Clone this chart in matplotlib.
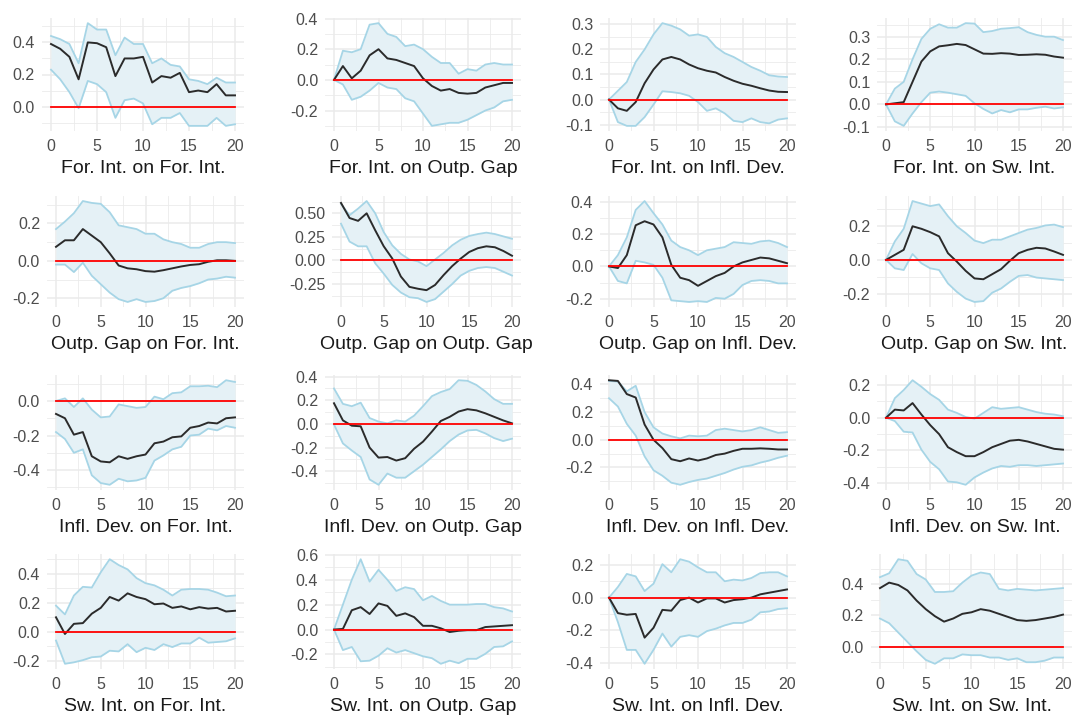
import numpy as np
import matplotlib
matplotlib.use("Agg")
import matplotlib.pyplot as plt

plt.rcParams['font.family'] = ['Liberation Sans', 'DejaVu Sans']

horizon = list(range(21))

# impulse responses: mean, lower and upper bands, one triple per panel
fi_fi_mean = [0.39, 0.36, 0.31, 0.17, 0.40, 0.395, 0.37, 0.19, 0.30, 0.30, 0.31, 0.15, 0.19, 0.18, 0.21, 0.09, 0.10, 0.09, 0.14, 0.07, 0.07]
fi_fi_hi = [0.44, 0.42, 0.39, 0.27, 0.52, 0.48, 0.48, 0.32, 0.43, 0.39, 0.39, 0.27, 0.30, 0.26, 0.25, 0.17, 0.16, 0.14, 0.18, 0.15, 0.15]
fi_fi_lo = [0.23, 0.17, 0.09, -0.01, 0.16, 0.14, 0.09, -0.07, 0.04, 0.05, 0.02, -0.11, -0.07, -0.07, -0.04, -0.12, -0.12, -0.12, -0.07, -0.12, -0.11]

fi_og_mean = [0.0, 0.09, 0.01, 0.06, 0.16, 0.20, 0.14, 0.13, 0.11, 0.09, 0.01, -0.04, -0.07, -0.06, -0.085, -0.09, -0.085, -0.05, -0.035, -0.02, -0.02]
fi_og_hi = [0.0, 0.19, 0.18, 0.20, 0.36, 0.37, 0.30, 0.28, 0.22, 0.23, 0.20, 0.15, 0.11, 0.11, 0.04, 0.07, 0.06, 0.10, 0.11, 0.10, 0.10]
fi_og_lo = [0.0, -0.03, -0.13, -0.11, -0.07, -0.02, -0.05, -0.06, -0.12, -0.14, -0.22, -0.30, -0.29, -0.28, -0.28, -0.26, -0.23, -0.20, -0.18, -0.14, -0.13]

fi_id_mean = [0.0, -0.035, -0.045, -0.01, 0.065, 0.12, 0.16, 0.17, 0.16, 0.14, 0.125, 0.115, 0.108, 0.09, 0.075, 0.063, 0.055, 0.045, 0.036, 0.031, 0.03]
fi_id_hi = [0.0, 0.035, 0.07, 0.15, 0.20, 0.26, 0.305, 0.295, 0.28, 0.255, 0.26, 0.25, 0.21, 0.185, 0.17, 0.15, 0.13, 0.115, 0.097, 0.092, 0.09]
fi_id_lo = [0.0, -0.09, -0.105, -0.105, -0.07, -0.02, 0.033, 0.03, 0.025, 0.015, -0.01, -0.045, -0.035, -0.055, -0.085, -0.09, -0.075, -0.09, -0.095, -0.08, -0.075]

fi_si_mean = [0.0, 0.005, 0.01, 0.10, 0.19, 0.235, 0.257, 0.262, 0.268, 0.263, 0.244, 0.225, 0.224, 0.227, 0.225, 0.219, 0.22, 0.222, 0.22, 0.212, 0.207]
fi_si_hi = [0.0, 0.07, 0.10, 0.20, 0.29, 0.335, 0.355, 0.34, 0.34, 0.36, 0.358, 0.32, 0.325, 0.335, 0.338, 0.342, 0.32, 0.308, 0.30, 0.30, 0.285]
fi_si_lo = [0.0, -0.075, -0.095, -0.04, 0.01, 0.052, 0.057, 0.052, 0.045, 0.038, 0.005, -0.02, -0.04, -0.025, -0.035, -0.022, -0.022, -0.015, -0.01, -0.018, -0.013]

og_fi_mean = [0.075, 0.11, 0.11, 0.17, 0.135, 0.10, 0.04, -0.025, -0.04, -0.045, -0.055, -0.058, -0.05, -0.04, -0.03, -0.022, -0.018, -0.005, 0.003, 0.003, 0.0]
og_fi_hi = [0.17, 0.21, 0.255, 0.32, 0.31, 0.305, 0.26, 0.19, 0.18, 0.17, 0.145, 0.145, 0.115, 0.10, 0.09, 0.07, 0.07, 0.09, 0.10, 0.10, 0.095]
og_fi_lo = [-0.02, -0.02, -0.06, -0.01, -0.08, -0.125, -0.17, -0.205, -0.22, -0.205, -0.22, -0.215, -0.20, -0.16, -0.145, -0.135, -0.12, -0.10, -0.095, -0.085, -0.09]

og_og_mean = [0.61, 0.45, 0.42, 0.50, 0.32, 0.15, 0.02, -0.17, -0.28, -0.30, -0.315, -0.26, -0.155, -0.06, 0.02, 0.09, 0.13, 0.15, 0.14, 0.10, 0.05]
og_og_hi = [0.60, 0.48, 0.55, 0.63, 0.50, 0.30, 0.16, 0.07, 0.01, -0.01, -0.06, 0.01, 0.08, 0.16, 0.22, 0.26, 0.28, 0.295, 0.28, 0.255, 0.23]
og_og_lo = [0.39, 0.20, 0.15, 0.15, -0.03, -0.14, -0.26, -0.34, -0.39, -0.40, -0.44, -0.41, -0.33, -0.25, -0.16, -0.11, -0.08, -0.07, -0.08, -0.12, -0.16]

og_id_mean = [0.0, -0.01, 0.07, 0.255, 0.28, 0.26, 0.18, 0.01, -0.07, -0.085, -0.12, -0.09, -0.06, -0.04, 0.0, 0.025, 0.04, 0.055, 0.05, 0.035, 0.02]
og_id_hi = [0.0, 0.07, 0.18, 0.35, 0.405, 0.33, 0.26, 0.16, 0.12, 0.10, 0.07, 0.10, 0.11, 0.12, 0.15, 0.145, 0.14, 0.155, 0.16, 0.145, 0.12]
og_id_lo = [0.0, -0.09, -0.105, 0.035, 0.025, 0.01, -0.07, -0.21, -0.215, -0.22, -0.215, -0.22, -0.195, -0.20, -0.17, -0.115, -0.09, -0.085, -0.09, -0.105, -0.105]

og_si_mean = [0.0, 0.03, 0.06, 0.20, 0.185, 0.165, 0.14, 0.04, -0.01, -0.065, -0.11, -0.115, -0.085, -0.055, -0.005, 0.04, 0.06, 0.072, 0.068, 0.05, 0.03]
og_si_hi = [0.0, 0.11, 0.185, 0.35, 0.335, 0.32, 0.33, 0.26, 0.20, 0.16, 0.115, 0.10, 0.12, 0.12, 0.14, 0.16, 0.18, 0.19, 0.205, 0.21, 0.195]
og_si_lo = [0.0, -0.05, -0.06, 0.035, -0.02, -0.05, -0.06, -0.14, -0.19, -0.23, -0.25, -0.245, -0.195, -0.17, -0.13, -0.095, -0.09, -0.105, -0.11, -0.115, -0.12]

id_fi_mean = [-0.075, -0.10, -0.195, -0.18, -0.32, -0.35, -0.355, -0.32, -0.335, -0.32, -0.31, -0.245, -0.235, -0.21, -0.205, -0.155, -0.145, -0.125, -0.13, -0.10, -0.095]
id_fi_hi = [0.0, 0.015, -0.035, 0.015, -0.05, -0.095, -0.09, -0.02, -0.03, -0.04, -0.035, 0.025, 0.01, 0.045, 0.05, 0.085, 0.085, 0.088, 0.08, 0.12, 0.11]
id_fi_lo = [-0.18, -0.22, -0.30, -0.28, -0.43, -0.475, -0.485, -0.45, -0.465, -0.46, -0.445, -0.345, -0.315, -0.28, -0.265, -0.20, -0.195, -0.16, -0.17, -0.145, -0.155]

id_og_mean = [0.175, 0.03, -0.015, -0.02, -0.20, -0.285, -0.28, -0.31, -0.29, -0.21, -0.15, -0.065, 0.025, 0.06, 0.105, 0.125, 0.115, 0.09, 0.06, 0.03, 0.005]
id_og_hi = [0.30, 0.17, 0.15, 0.18, 0.05, 0.02, 0.005, 0.03, 0.02, 0.07, 0.15, 0.235, 0.27, 0.295, 0.37, 0.365, 0.33, 0.275, 0.21, 0.17, 0.17]
id_og_lo = [-0.005, -0.165, -0.225, -0.28, -0.47, -0.515, -0.42, -0.455, -0.455, -0.40, -0.345, -0.28, -0.215, -0.145, -0.09, -0.055, -0.05, -0.08, -0.12, -0.145, -0.125]

id_id_mean = [0.43, 0.425, 0.33, 0.305, 0.11, 0.0, -0.06, -0.14, -0.155, -0.135, -0.15, -0.135, -0.11, -0.10, -0.08, -0.065, -0.065, -0.062, -0.065, -0.07, -0.07]
id_id_hi = [0.425, 0.42, 0.35, 0.39, 0.20, 0.09, 0.045, 0.025, 0.01, 0.03, 0.025, 0.03, 0.07, 0.08, 0.07, 0.06, 0.07, 0.09, 0.07, 0.05, 0.055]
id_id_lo = [0.30, 0.24, 0.115, 0.03, -0.12, -0.22, -0.26, -0.31, -0.325, -0.305, -0.29, -0.28, -0.26, -0.24, -0.215, -0.195, -0.185, -0.165, -0.15, -0.13, -0.115]

id_si_mean = [0.0, 0.05, 0.045, 0.09, 0.02, -0.045, -0.10, -0.18, -0.21, -0.235, -0.235, -0.21, -0.18, -0.16, -0.14, -0.135, -0.145, -0.16, -0.175, -0.19, -0.195]
id_si_hi = [0.0, 0.12, 0.17, 0.23, 0.19, 0.145, 0.11, 0.05, 0.03, 0.005, -0.005, 0.03, 0.065, 0.055, 0.06, 0.065, 0.05, 0.035, 0.025, 0.02, 0.01]
id_si_lo = [0.0, -0.02, -0.085, -0.09, -0.195, -0.27, -0.315, -0.39, -0.395, -0.41, -0.365, -0.335, -0.31, -0.295, -0.30, -0.29, -0.29, -0.295, -0.29, -0.285, -0.28]

si_fi_mean = [0.10, -0.015, 0.055, 0.06, 0.125, 0.165, 0.24, 0.215, 0.265, 0.24, 0.225, 0.19, 0.195, 0.165, 0.175, 0.155, 0.17, 0.16, 0.165, 0.14, 0.145]
si_fi_hi = [0.18, 0.12, 0.25, 0.31, 0.305, 0.41, 0.50, 0.46, 0.43, 0.37, 0.335, 0.32, 0.29, 0.25, 0.29, 0.295, 0.295, 0.29, 0.27, 0.245, 0.25]
si_fi_lo = [-0.06, -0.22, -0.21, -0.195, -0.175, -0.17, -0.13, -0.135, -0.085, -0.14, -0.11, -0.125, -0.085, -0.105, -0.08, -0.08, -0.04, -0.075, -0.07, -0.065, -0.045]

si_og_mean = [0.0, 0.005, 0.155, 0.18, 0.125, 0.21, 0.19, 0.11, 0.13, 0.10, 0.03, 0.03, 0.01, -0.02, -0.01, -0.005, -0.005, 0.02, 0.025, 0.03, 0.035]
si_og_hi = [0.0, 0.20, 0.40, 0.565, 0.385, 0.48, 0.40, 0.31, 0.34, 0.325, 0.235, 0.27, 0.23, 0.20, 0.20, 0.20, 0.205, 0.205, 0.18, 0.17, 0.145]
si_og_lo = [0.0, -0.165, -0.14, -0.255, -0.25, -0.21, -0.15, -0.185, -0.165, -0.19, -0.215, -0.23, -0.275, -0.25, -0.27, -0.235, -0.235, -0.195, -0.14, -0.135, -0.095]

si_id_mean = [0.0, -0.095, -0.105, -0.10, -0.245, -0.185, -0.075, -0.08, -0.015, 0.0, -0.03, -0.005, -0.005, -0.03, -0.015, -0.01, 0.0, 0.02, 0.03, 0.04, 0.05]
si_id_hi = [0.0, 0.065, 0.145, 0.13, 0.04, 0.085, 0.205, 0.155, 0.235, 0.22, 0.185, 0.155, 0.155, 0.10, 0.11, 0.105, 0.12, 0.15, 0.155, 0.155, 0.13]
si_id_lo = [0.0, -0.15, -0.32, -0.32, -0.405, -0.32, -0.22, -0.30, -0.24, -0.23, -0.24, -0.205, -0.19, -0.17, -0.155, -0.155, -0.135, -0.09, -0.085, -0.07, -0.065]

si_si_mean = [0.375, 0.41, 0.395, 0.36, 0.295, 0.24, 0.195, 0.16, 0.18, 0.21, 0.22, 0.24, 0.23, 0.21, 0.19, 0.17, 0.165, 0.17, 0.18, 0.19, 0.205]
si_si_hi = [0.445, 0.47, 0.56, 0.55, 0.465, 0.43, 0.35, 0.35, 0.355, 0.41, 0.455, 0.475, 0.465, 0.37, 0.36, 0.37, 0.365, 0.36, 0.365, 0.37, 0.375]
si_si_lo = [0.18, 0.15, 0.09, 0.03, -0.03, -0.085, -0.11, -0.075, -0.075, -0.05, -0.055, -0.055, -0.07, -0.07, -0.085, -0.075, -0.10, -0.10, -0.09, -0.07, -0.07]

titles = [
    "For. Int. on For. Int.", "For. Int. on Outp. Gap", "For. Int. on Infl. Dev.", "For. Int. on Sw. Int.",
    "Outp. Gap on For. Int.", "Outp. Gap on Outp. Gap", "Outp. Gap on Infl. Dev.", "Outp. Gap on Sw. Int.",
    "Infl. Dev. on For. Int.", "Infl. Dev. on Outp. Gap", "Infl. Dev. on Infl. Dev.", "Infl. Dev. on Sw. Int.",
    "Sw. Int. on For. Int.", "Sw. Int. on Outp. Gap", "Sw. Int. on Infl. Dev.", "Sw. Int. on Sw. Int.",
]

series = [
    (fi_fi_mean, fi_fi_lo, fi_fi_hi), (fi_og_mean, fi_og_lo, fi_og_hi),
    (fi_id_mean, fi_id_lo, fi_id_hi), (fi_si_mean, fi_si_lo, fi_si_hi),
    (og_fi_mean, og_fi_lo, og_fi_hi), (og_og_mean, og_og_lo, og_og_hi),
    (og_id_mean, og_id_lo, og_id_hi), (og_si_mean, og_si_lo, og_si_hi),
    (id_fi_mean, id_fi_lo, id_fi_hi), (id_og_mean, id_og_lo, id_og_hi),
    (id_id_mean, id_id_lo, id_id_hi), (id_si_mean, id_si_lo, id_si_hi),
    (si_fi_mean, si_fi_lo, si_fi_hi), (si_og_mean, si_og_lo, si_og_hi),
    (si_id_mean, si_id_lo, si_id_hi), (si_si_mean, si_si_lo, si_si_hi),
]

# y breaks per panel (start, stop, step) like ggplot picked them
ybreaks = [
    (0.0, 0.4, 0.2), (-0.2, 0.4, 0.2), (-0.1, 0.3, 0.1), (-0.1, 0.3, 0.1),
    (-0.2, 0.2, 0.2), (-0.25, 0.5, 0.25), (-0.2, 0.4, 0.2), (-0.2, 0.2, 0.2),
    (-0.4, 0.0, 0.2), (-0.4, 0.4, 0.2), (-0.2, 0.4, 0.2), (-0.4, 0.2, 0.2),
    (-0.2, 0.4, 0.2), (-0.2, 0.6, 0.2), (-0.4, 0.2, 0.2), (0.0, 0.4, 0.2),
]

# pixel layout (x of horizon 0 per panel, x of horizon 20 per column, row tops/bottoms)
W, H = 1074, 717
x_left = [51, 334, 609, 886, 56, 341, 609, 886, 56, 334, 609, 886, 56, 334, 609, 880]
x_right = [235, 512, 787, 1063]
row_top = [18, 196, 375, 554]
row_bot = [131, 307, 490, 669]

grid_col = "#EBEBEB"
band_line = "#A6D5E6"
band_fill = "#E5F1F6"

fig = plt.figure(figsize=(W / 100, H / 100), dpi=100)

for i in range(16):
    r, c = divmod(i, 4)
    x0, x20 = x_left[i], x_right[c]
    step = (x20 - x0) / 20
    left = x0 - step
    width = (x20 - x0) + 2 * step
    ax = fig.add_axes([left / W, 1 - row_bot[r] / H, width / W, (row_bot[r] - row_top[r]) / H])

    mean, lo, hi = series[i]
    ax.fill_between(horizon, lo, hi, color=band_fill, lw=0, zorder=2)
    ax.plot(horizon, hi, color=band_line, lw=1.3, zorder=3)
    ax.plot(horizon, lo, color=band_line, lw=1.3, zorder=3)
    ax.plot(horizon, mean, color="#2B2B2B", lw=1.4, zorder=4)
    ax.plot([0, 20], [0, 0], color="#FF0000", lw=1.3, zorder=5)

    ymin = min(lo + mean + [0])
    ymax = max(hi + mean + [0])
    pad = (ymax - ymin) * 0.05

    a, b, s = ybreaks[i]
    yt = np.round(np.arange(a, b + s / 2, s), 3)
    dec = 2 if abs(s - 0.25) < 1e-9 else 1
    labels = [f"{abs(v):.{dec}f}" if abs(v) < 1e-9 else f"{v:.{dec}f}" for v in yt]
    ax.set_yticks(yt, labels)
    ax.set_yticks(np.arange(a - 3 * s / 2, b + 2 * s, s), minor=True)
    ax.set_xticks([0, 5, 10, 15, 20])
    ax.set_xticks([-2.5, 2.5, 7.5, 12.5, 17.5, 22.5], minor=True)
    ax.set_ylim(ymin - pad, ymax + pad)
    ax.set_xlim(-1, 21)

    ax.grid(True, which="major", color=grid_col, lw=1.1, zorder=0)
    ax.grid(True, which="minor", color=grid_col, lw=0.6, zorder=0)
    ax.set_axisbelow(True)
    for sp in ax.spines.values():
        sp.set_visible(False)
    ax.tick_params(which="both", length=0, labelsize=11.5, labelcolor="#4D4D4D")
    ax.tick_params(axis="y", pad=5)
    ax.tick_params(axis="x", pad=6)
    ax.set_xlabel(titles[i], fontsize=14, color="#1A1A1A", labelpad=4)

fig.savefig("out.png", dpi=100, facecolor="white")
